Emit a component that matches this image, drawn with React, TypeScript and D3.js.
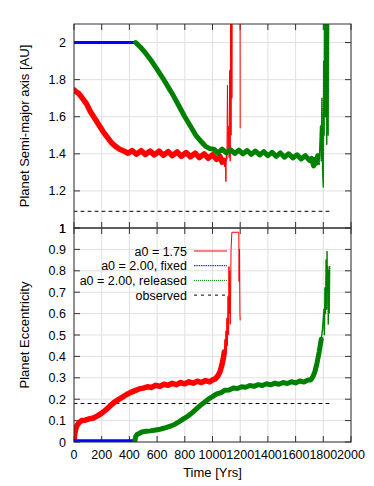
import React from "react";
import * as d3 from "d3";

// ---------- data (time [yrs], value) ----------
const xTicks = [0, 200, 400, 600, 800, 1000, 1200, 1400, 1600, 1800, 2000];
const topTicks = [1, 1.2, 1.4, 1.6, 1.8, 2];
const botTicks = [0, 0.1, 0.2, 0.3, 0.4, 0.5, 0.6, 0.7, 0.8, 0.9, 1];

const legendLabels = ["a0 = 1.75", "a0 = 2.00, fixed", "a0 = 2.00, released", "observed"];

const observedA = 1.09;
const observedE = 0.18;
const observedSpan = [0, 1850];

// semi-major axis, a0 = 1.75
const redA: [number, number][] = [
  [0, 1.745], [15, 1.735], [35, 1.725], [60, 1.7], [90, 1.67], [120, 1.625], [150, 1.59],
  [180, 1.555], [210, 1.52], [240, 1.49], [270, 1.46], [300, 1.44], [330, 1.425], [360, 1.415],
  [390, 1.403], [420, 1.418], [450, 1.398], [485, 1.417], [515, 1.396], [550, 1.415], [580, 1.394],
  [615, 1.414], [645, 1.392], [680, 1.412], [710, 1.39], [745, 1.41], [775, 1.387], [810, 1.407],
  [840, 1.384], [875, 1.404], [905, 1.38], [940, 1.4], [970, 1.376], [1000, 1.395], [1030, 1.37],
  [1055, 1.385], [1070, 1.355], [1082, 1.365],
];
const redATail: [number, number][] = [
  [1082, 1.365], [1088, 1.33], [1093, 1.36], [1097, 1.25], [1100, 1.42], [1104, 1.37], [1108, 1.77],
  [1112, 1.4], [1116, 1.55], [1120, 1.38], [1124, 1.85], [1128, 1.36], [1131, 2.3], [1134, 1.5],
  [1137, 2.3], [1140, 1.7], [1143, 2.3], [1150, 2.3], [1195, 2.3], [1199, 2.3], [1200, 1.54],
];
// a0 = 2.00 fixed
const blueA: [number, number][] = [[0, 2.0], [445, 2.0]];
// a0 = 2.00 released
const greenA: [number, number][] = [
  [445, 2.0], [480, 1.975], [520, 1.94], [560, 1.9], [600, 1.855], [640, 1.81], [680, 1.76],
  [720, 1.71], [760, 1.655], [800, 1.6], [840, 1.55], [880, 1.5], [920, 1.465], [950, 1.44],
  [980, 1.428], [1010, 1.425], [1040, 1.405], [1070, 1.425], [1100, 1.405], [1130, 1.422],
  [1160, 1.402], [1190, 1.42], [1220, 1.4], [1250, 1.418], [1280, 1.397], [1310, 1.415],
  [1340, 1.394], [1370, 1.412], [1400, 1.39], [1430, 1.408], [1460, 1.386], [1490, 1.405],
  [1520, 1.382], [1550, 1.4], [1580, 1.378], [1610, 1.395], [1640, 1.372], [1670, 1.39],
  [1700, 1.365], [1715, 1.375], [1730, 1.335], [1740, 1.37], [1750, 1.35], [1760, 1.39],
];
const greenATail: [number, number][] = [
  [1760, 1.39], [1770, 1.34], [1780, 1.55], [1785, 1.36], [1790, 1.7], [1795, 1.3], [1800, 1.22],
  [1803, 1.9], [1806, 1.5], [1810, 2.3], [1815, 1.6], [1820, 2.3], [1825, 1.45], [1830, 2.3],
  [1835, 1.5], [1840, 2.3],
];

// eccentricity
const redE: [number, number][] = [
  [0, 0], [4, 0.03], [10, 0.055], [20, 0.075], [35, 0.09], [55, 0.1], [80, 0.102], [110, 0.108],
  [140, 0.112], [170, 0.122], [200, 0.135], [230, 0.15], [260, 0.168], [290, 0.185], [320, 0.198],
  [350, 0.21], [380, 0.222], [410, 0.232], [440, 0.24], [470, 0.248], [500, 0.252], [530, 0.258],
  [560, 0.255], [590, 0.265], [620, 0.26], [650, 0.27], [680, 0.265], [710, 0.274], [740, 0.268],
  [770, 0.278], [800, 0.272], [830, 0.281], [860, 0.275], [890, 0.284], [920, 0.278], [950, 0.287],
  [980, 0.281], [1000, 0.29], [1020, 0.295], [1040, 0.31], [1055, 0.33], [1068, 0.36],
  [1078, 0.39], [1085, 0.42],
];
const redETail: [number, number][] = [
  [1085, 0.42], [1090, 0.48], [1093, 0.4], [1097, 0.52], [1100, 0.42], [1104, 0.58], [1108, 0.45],
  [1112, 0.68], [1116, 0.5], [1119, 0.82], [1122, 0.6], [1125, 0.8], [1128, 0.55], [1131, 0.7],
  [1134, 0.9], [1140, 0.98], [1185, 0.98], [1190, 0.98], [1192, 0.75], [1195, 0.9], [1198, 0.6],
  [1200, 0.57],
];
const blueE: [number, number][] = [[0, 0.006], [445, 0.006]];
const greenE: [number, number][] = [
  [440, 0.005], [445, 0.025], [455, 0.035], [470, 0.04], [490, 0.047], [520, 0.05], [550, 0.052],
  [580, 0.055], [610, 0.058], [640, 0.063], [670, 0.068], [700, 0.075], [730, 0.083], [760, 0.095],
  [790, 0.108], [820, 0.12], [850, 0.135], [880, 0.152], [910, 0.17], [940, 0.185], [970, 0.2],
  [1000, 0.212], [1030, 0.225], [1060, 0.23], [1090, 0.242], [1120, 0.243], [1150, 0.252],
  [1180, 0.25], [1210, 0.258], [1240, 0.256], [1270, 0.264], [1300, 0.26], [1330, 0.268],
  [1360, 0.264], [1390, 0.272], [1420, 0.267], [1450, 0.275], [1480, 0.27], [1510, 0.278],
  [1540, 0.273], [1570, 0.282], [1600, 0.276], [1630, 0.285], [1660, 0.28], [1690, 0.29],
  [1710, 0.29], [1725, 0.305], [1740, 0.33], [1755, 0.37], [1770, 0.42], [1785, 0.48],
];
const greenETail: [number, number][] = [
  [1785, 0.48], [1795, 0.53], [1800, 0.58], [1805, 0.62], [1808, 0.5], [1812, 0.72], [1816, 0.6],
  [1820, 0.85], [1824, 0.62], [1827, 0.89], [1830, 0.7], [1833, 0.82], [1836, 0.55], [1840, 0.8],
  [1843, 0.6], [1846, 0.82],
];

// ---------- layout ----------
const W = 374;
const H = 486;
const L = 74;
const R = 351;
const TOP_T = 24;
const MID = 228;
const BOT_B = 442;

const RED = "#ff0000";
const BLUE = "#0000ff";
const GREEN = "#008000";
const FONT = "'Liberation Sans', Arial, sans-serif";
const FS = 12.5;

export default function App() {
  const x = d3.scaleLinear().domain([0, 2000]).range([L, R]);
  const yT = d3.scaleLinear().domain([1, 2.1]).range([MID, TOP_T]);
  const yB = d3.scaleLinear().domain([0, 1]).range([BOT_B, MID]);

  const lineT = d3.line<[number, number]>().x((d) => x(d[0])).y((d) => yT(d[1]));
  const lineB = d3.line<[number, number]>().x((d) => x(d[0])).y((d) => yB(d[1]));

  const grid = "#e0e0e0";
  const tickLen = 6;

  const panelFrame = (y0: number, y1: number, yScale: d3.ScaleLinear<number, number>, ticks: number[], showX: boolean, key: string) => (
    <g key={key}>
      {xTicks.map((t) => (
        <line key={"gx" + t} x1={x(t)} x2={x(t)} y1={y0} y2={y1} stroke={grid} strokeWidth={1} />
      ))}
      {ticks.map((t) => (
        <line key={"gy" + t} x1={L} x2={R} y1={yScale(t)} y2={yScale(t)} stroke={grid} strokeWidth={1} />
      ))}
      {xTicks.map((t) => (
        <g key={"tx" + t}>
          <line x1={x(t)} x2={x(t)} y1={y1} y2={y1 - tickLen} stroke="#333" />
          <line x1={x(t)} x2={x(t)} y1={y0} y2={y0 + tickLen} stroke="#333" />
          {showX && (
            <text x={x(t)} y={y1 + 17} textAnchor="middle" fontSize={FS} fontFamily={FONT} fill="#000">
              {t}
            </text>
          )}
        </g>
      ))}
      {ticks.map((t) => (
        <g key={"ty" + t}>
          <line x1={L} x2={L + tickLen} y1={yScale(t)} y2={yScale(t)} stroke="#333" />
          <line x1={R} x2={R - tickLen} y1={yScale(t)} y2={yScale(t)} stroke="#333" />
          <text x={L - 8} y={yScale(t) + 4.5} textAnchor="end" fontSize={FS} fontFamily={FONT} fill="#000">
            {t}
          </text>
        </g>
      ))}
    </g>
  );

  return (
    <svg width={W} height={H} style={{ position: "absolute", left: 0, top: 0, background: "#fff" }}>
      <defs>
        <clipPath id="clipT">
          <rect x={L} y={TOP_T} width={R - L} height={MID - TOP_T} />
        </clipPath>
        <clipPath id="clipB">
          <rect x={L} y={MID} width={R - L} height={BOT_B - MID} />
        </clipPath>
      </defs>
      <rect x={0} y={0} width={W} height={H} fill="#fff" />

      {panelFrame(TOP_T, MID, yT, topTicks, false, "top")}
      {panelFrame(MID, BOT_B, yB, botTicks, true, "bot")}

      {/* top panel data */}
      <g clipPath="url(#clipT)" fill="none" strokeLinejoin="round" strokeLinecap="round">
        <line x1={x(observedSpan[0])} x2={x(observedSpan[1])} y1={yT(observedA)} y2={yT(observedA)} stroke="#000" strokeDasharray="3,4" />
        <path d={lineT(redATail) || ""} stroke={RED} strokeWidth={1} />
        <path d={lineT(redA) || ""} stroke={RED} strokeWidth={5.5} />
        <path d={lineT(blueA) || ""} stroke={BLUE} strokeWidth={3} />
        <path d={lineT(greenATail) || ""} stroke={GREEN} strokeWidth={1.5} strokeDasharray="1,1" />
        <path d={lineT(greenA) || ""} stroke={GREEN} strokeWidth={5} />
      </g>

      {/* bottom panel data */}
      <g clipPath="url(#clipB)" fill="none" strokeLinejoin="round" strokeLinecap="round">
        <line x1={x(observedSpan[0])} x2={x(observedSpan[1])} y1={yB(observedE)} y2={yB(observedE)} stroke="#000" strokeDasharray="3,4" />
        <path d={lineB(redETail) || ""} stroke={RED} strokeWidth={1} />
        <path d={lineB(redE) || ""} stroke={RED} strokeWidth={5.5} />
        <path d={lineB(blueE) || ""} stroke={BLUE} strokeWidth={3} />
        <path d={lineB(greenETail) || ""} stroke={GREEN} strokeWidth={1.5} strokeDasharray="1,1" />
        <path d={lineB(greenE) || ""} stroke={GREEN} strokeWidth={5} />
      </g>

      {/* frames */}
      <rect x={L} y={TOP_T} width={R - L} height={MID - TOP_T} fill="none" stroke="#333" strokeWidth={1} />
      <rect x={L} y={MID} width={R - L} height={BOT_B - MID} fill="none" stroke="#333" strokeWidth={1} />

      {/* legend */}
      {legendLabels.map((lab, i) => {
        const yy = 251 + i * 14.7;
        const styles = [
          { stroke: RED, dash: undefined as string | undefined },
          { stroke: BLUE, dash: "1.5,0.8" },
          { stroke: GREEN, dash: "1,1" },
          { stroke: "#000", dash: "3,4" },
        ][i];
        return (
          <g key={lab}>
            <text x={187} y={yy + 4.5} textAnchor="end" fontSize={FS} fontFamily={FONT} fill="#000">
              {lab}
            </text>
            <line x1={194} x2={227} y1={yy} y2={yy} stroke={styles.stroke} strokeDasharray={styles.dash} strokeWidth={1} />
          </g>
        );
      })}

      {/* axis titles */}
      <text transform={`translate(29,${(TOP_T + MID) / 2}) rotate(-90)`} textAnchor="middle" fontSize={13} fontFamily={FONT} fill="#000">
        Planet Semi-major axis [AU]
      </text>
      <text transform={`translate(29,${(MID + BOT_B) / 2}) rotate(-90)`} textAnchor="middle" fontSize={13} fontFamily={FONT} fill="#000">
        Planet Eccentricity
      </text>
      <text x={(L + R) / 2} y={477} textAnchor="middle" fontSize={13} fontFamily={FONT} fill="#000">
        Time [Yrs]
      </text>
    </svg>
  );
}
